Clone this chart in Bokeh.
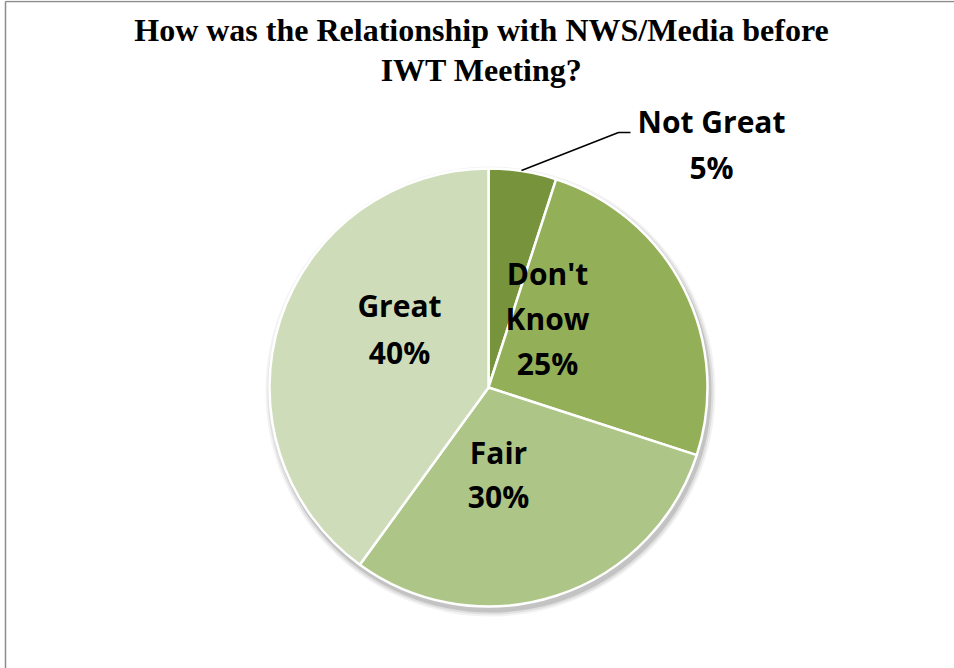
import numpy as np
from bokeh.plotting import figure
from bokeh.models import Range1d
from bokeh.core.properties import value
from bokeh.embed import file_html
from bokeh.resources import INLINE

# ---- data ----
categories = ["Not Great", "Don't Know", "Fair", "Great"]
shares = [5, 25, 30, 40]
colors = ["#77933C", "#93B058", "#ADC687", "#CFDCB9"]
title_lines = ["How was the Relationship with NWS/Media before", "IWT Meeting?"]

W, H = 954, 668
p = figure(width=W, height=H, output_backend="svg", toolbar_location=None,
           x_range=Range1d(0, W), y_range=Range1d(0, H), min_border=0)
p.axis.visible = False
p.grid.visible = False
p.outline_line_color = None
p.background_fill_color = "white"
p.border_fill_color = "white"

def Y(ypix):
    return H - ypix

# frame border (left and top visible)
p.segment(x0=[5, 5], y0=[Y(1), Y(1)], x1=[5, W], y1=[Y(H), Y(1)],
          line_color="#8c8c8c", line_width=1.5)

cx, cy, r = 488, Y(387), 219

# soft shadow
for dr, a in [(6, 0.05), (4, 0.08), (2, 0.12)]:
    p.circle(x=[cx + 2], y=[cy - 4], radius=r + dr, fill_color="#000000",
             fill_alpha=a, line_color=None)

total = float(sum(shares))
cum = np.concatenate([[0], np.cumsum(shares)]) / total
starts = np.pi / 2 - 2 * np.pi * cum[:-1]
ends = np.pi / 2 - 2 * np.pi * cum[1:]
p.wedge(x=[cx] * len(shares), y=[cy] * len(shares), radius=r,
        start_angle=list(starts), end_angle=list(ends), direction="clock",
        fill_color=colors, line_color="white", line_width=2.5)

# labels
pct = [f"{s}%" for s in shares]
label_font = value("Open Sans")
lab_pos = {
    "Great": [(399, 305, "Great"), (399, 352, pct[3])],
    "Don't Know": [(547, 273, "Don't"), (547, 318, "Know"), (547, 363, pct[1])],
    "Fair": [(498, 452, "Fair"), (498, 496, pct[2])],
    "Not Great": [(711, 121, "Not Great"), (711, 167, pct[0])],
}
xs, ys, ts = [], [], []
for k, items in lab_pos.items():
    for (x, y, t) in items:
        xs.append(x); ys.append(Y(y)); ts.append(t)
p.text(x=xs, y=ys, text=ts, text_font=label_font, text_font_style="bold",
       text_font_size="30px", text_align="center", text_baseline="middle",
       text_color="black")

# leader line for Not Great
p.line(x=[521, 618, 630], y=[Y(170), Y(132), Y(132)], line_color="black", line_width=1.5)

# title
p.text(x=[481, 481], y=[Y(29), Y(69)], text=title_lines,
       text_font=value("Liberation Serif"), text_font_style="bold",
       text_font_size="32px", text_align="center", text_baseline="middle",
       text_color="black")

open("out.html", "w").write(file_html(p, INLINE))
